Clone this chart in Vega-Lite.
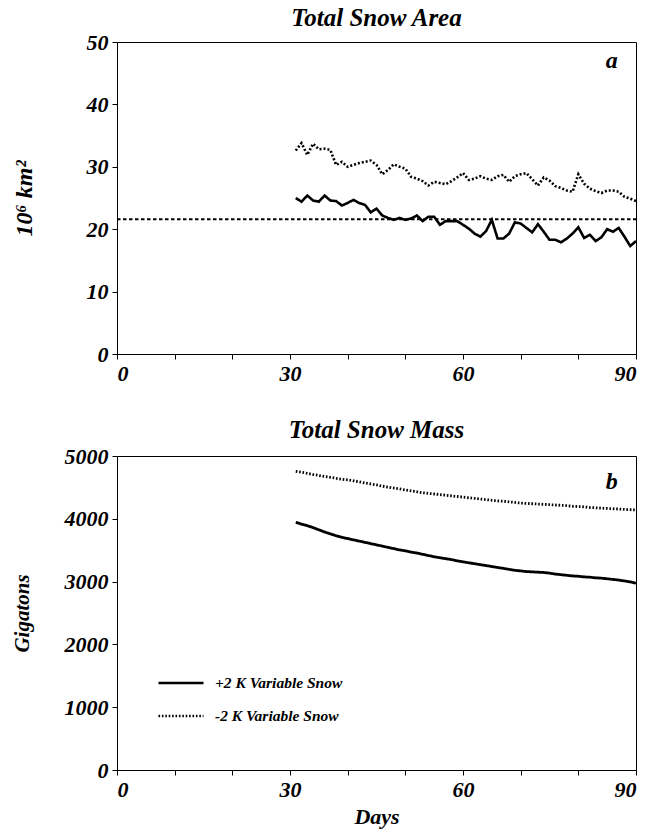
{
  "$schema": "https://vega.github.io/schema/vega-lite/v6.json",
  "padding": {"left": 10, "top": 5, "right": 5, "bottom": 5},
  "background": "white",
  "config": {
    "font": "Liberation Serif",
    "view": {"stroke": "black", "strokeWidth": 1},
    "axis": {
      "labelFont": "Liberation Serif", "labelFontWeight": "bold", "labelFontStyle": "italic",
      "labelFontSize": 22, "labelColor": "black",
      "titleFont": "Liberation Serif", "titleFontWeight": "bold", "titleFontStyle": "italic",
      "titleFontSize": 21, "titleColor": "black",
      "domainColor": "black", "tickColor": "black", "tickSize": 5, "grid": false, "labelPadding": 4
    },
    "title": {"font": "Liberation Serif", "fontWeight": "bold", "fontStyle": "italic", "fontSize": 25, "color": "black"},
    "legend": {"labelFont": "Liberation Serif", "labelFontWeight": "bold", "labelFontStyle": "italic", "labelFontSize": 15.5, "labelColor": "black"}
  },
  "datasets": {
    "area": [
      {"day":31,"plus":25.0,"minus":32.6},{"day":32,"plus":24.4,"minus":33.8},{"day":33,"plus":25.4,"minus":31.9},
      {"day":34,"plus":24.6,"minus":33.7},{"day":35,"plus":24.4,"minus":32.8},{"day":36,"plus":25.4,"minus":32.9},
      {"day":37,"plus":24.6,"minus":32.7},{"day":38,"plus":24.5,"minus":30.3},{"day":39,"plus":23.8,"minus":30.8},
      {"day":40,"plus":24.2,"minus":30.0},{"day":41,"plus":24.7,"minus":30.3},{"day":42,"plus":24.2,"minus":30.6},
      {"day":43,"plus":23.9,"minus":30.8},{"day":44,"plus":22.7,"minus":31.0},{"day":45,"plus":23.3,"minus":30.3},
      {"day":46,"plus":22.2,"minus":28.8},{"day":47,"plus":21.8,"minus":29.5},{"day":48,"plus":21.5,"minus":30.4},
      {"day":49,"plus":21.8,"minus":30.0},{"day":50,"plus":21.5,"minus":29.7},{"day":51,"plus":21.7,"minus":28.4},
      {"day":52,"plus":22.2,"minus":28.1},{"day":53,"plus":21.3,"minus":27.7},{"day":54,"plus":22.0,"minus":27.0},
      {"day":55,"plus":22.0,"minus":27.6},{"day":56,"plus":20.7,"minus":27.4},{"day":57,"plus":21.3,"minus":27.2},
      {"day":58,"plus":21.3,"minus":27.7},{"day":59,"plus":21.3,"minus":28.3},{"day":60,"plus":20.7,"minus":29.0},
      {"day":61,"plus":20.1,"minus":27.9},{"day":62,"plus":19.3,"minus":28.1},{"day":63,"plus":18.8,"minus":28.5},
      {"day":64,"plus":19.7,"minus":28.1},{"day":65,"plus":21.5,"minus":27.9},{"day":66,"plus":18.5,"minus":28.5},
      {"day":67,"plus":18.5,"minus":28.7},{"day":68,"plus":19.3,"minus":27.6},{"day":69,"plus":21.1,"minus":28.5},
      {"day":70,"plus":20.9,"minus":28.8},{"day":71,"plus":20.2,"minus":29.0},{"day":72,"plus":19.5,"minus":28.0},
      {"day":73,"plus":20.8,"minus":27.0},{"day":74,"plus":19.6,"minus":28.3},{"day":75,"plus":18.3,"minus":27.8},
      {"day":76,"plus":18.3,"minus":26.9},{"day":77,"plus":17.9,"minus":26.6},{"day":78,"plus":18.5,"minus":26.2},
      {"day":79,"plus":19.3,"minus":26.0},{"day":80,"plus":20.3,"minus":28.8},{"day":81,"plus":18.6,"minus":27.3},
      {"day":82,"plus":19.1,"minus":26.5},{"day":83,"plus":18.1,"minus":26.1},{"day":84,"plus":18.7,"minus":25.8},
      {"day":85,"plus":20.0,"minus":26.2},{"day":86,"plus":19.6,"minus":26.2},{"day":87,"plus":20.2,"minus":26.0},
      {"day":88,"plus":18.8,"minus":25.2},{"day":89,"plus":17.3,"minus":24.9},{"day":90,"plus":18.1,"minus":24.5}
    ],
    "ref": [{"day":0,"value":21.6},{"day":90,"value":21.6}],
    "mass": [
      {"day":31,"plus":3945,"minus":4755},{"day":32,"plus":3915,"minus":4740},{"day":33,"plus":3890,"minus":4725},
      {"day":34,"plus":3860,"minus":4705},{"day":35,"plus":3825,"minus":4690},{"day":36,"plus":3790,"minus":4675},
      {"day":37,"plus":3760,"minus":4660},{"day":38,"plus":3730,"minus":4645},{"day":39,"plus":3705,"minus":4630},
      {"day":40,"plus":3685,"minus":4620},{"day":41,"plus":3665,"minus":4605},{"day":42,"plus":3645,"minus":4590},
      {"day":43,"plus":3625,"minus":4570},{"day":44,"plus":3605,"minus":4555},{"day":45,"plus":3585,"minus":4540},
      {"day":46,"plus":3565,"minus":4520},{"day":47,"plus":3545,"minus":4505},{"day":48,"plus":3525,"minus":4490},
      {"day":49,"plus":3505,"minus":4475},{"day":50,"plus":3490,"minus":4460},{"day":51,"plus":3470,"minus":4445},
      {"day":52,"plus":3455,"minus":4430},{"day":53,"plus":3435,"minus":4415},{"day":54,"plus":3415,"minus":4405},
      {"day":55,"plus":3395,"minus":4395},{"day":56,"plus":3380,"minus":4385},{"day":57,"plus":3365,"minus":4375},
      {"day":58,"plus":3350,"minus":4365},{"day":59,"plus":3330,"minus":4355},{"day":60,"plus":3315,"minus":4345},
      {"day":61,"plus":3300,"minus":4335},{"day":62,"plus":3285,"minus":4325},{"day":63,"plus":3270,"minus":4315},
      {"day":64,"plus":3255,"minus":4305},{"day":65,"plus":3240,"minus":4295},{"day":66,"plus":3225,"minus":4285},
      {"day":67,"plus":3210,"minus":4280},{"day":68,"plus":3195,"minus":4270},{"day":69,"plus":3180,"minus":4260},
      {"day":70,"plus":3170,"minus":4250},{"day":71,"plus":3160,"minus":4245},{"day":72,"plus":3155,"minus":4240},
      {"day":73,"plus":3150,"minus":4235},{"day":74,"plus":3145,"minus":4230},{"day":75,"plus":3135,"minus":4225},
      {"day":76,"plus":3120,"minus":4220},{"day":77,"plus":3110,"minus":4215},{"day":78,"plus":3100,"minus":4210},
      {"day":79,"plus":3090,"minus":4200},{"day":80,"plus":3085,"minus":4195},{"day":81,"plus":3075,"minus":4190},
      {"day":82,"plus":3070,"minus":4180},{"day":83,"plus":3060,"minus":4175},{"day":84,"plus":3055,"minus":4170},
      {"day":85,"plus":3045,"minus":4165},{"day":86,"plus":3035,"minus":4160},{"day":87,"plus":3025,"minus":4155},
      {"day":88,"plus":3010,"minus":4150},{"day":89,"plus":2995,"minus":4145},{"day":90,"plus":2975,"minus":4140}
    ]
  },
  "bounds": "flush",
  "spacing": 102,
  "vconcat": [
    {
      "width": 519, "height": 312,
      "title": {"text": "Total Snow Area", "offset": 0},
      "layer": [
        {
          "data": {"name": "area"},
          "transform": [{"fold": ["plus", "minus"], "as": ["run", "value"]}],
          "mark": {"type": "line", "color": "black", "strokeWidth": 2.6},
          "encoding": {
            "x": {"field": "day", "type": "quantitative", "scale": {"domain": [0, 90]},
                  "axis": {"values": [0,10,20,30,40,50,60,70,80,90], "labelExpr": "datum.value % 30 === 0 ? datum.label : ''", "title": null}},
            "y": {"field": "value", "type": "quantitative", "scale": {"domain": [0, 50]},
                  "axis": {"values": [0,5,10,15,20,25,30,35,40,45,50], "labelExpr": "datum.value % 10 === 0 ? datum.label : ''",
                           "title": "10⁶ km²", "titleFontSize": 24, "minExtent": 62, "maxExtent": 62, "titlePadding": 19}},
            "strokeDash": {"field": "run", "type": "nominal", "scale": {"domain": ["plus", "minus"], "range": [[1, 0], [2, 2]]}, "legend": null}
          }
        },
        {
          "data": {"name": "ref"},
          "mark": {"type": "line", "color": "black", "strokeWidth": 2, "strokeDash": [3.5, 2.5]},
          "encoding": {
            "x": {"field": "day", "type": "quantitative"},
            "y": {"field": "value", "type": "quantitative"}
          }
        },
        {
          "data": {"values": [{"label": "a"}]},
          "mark": {"type": "text", "fontSize": 24, "fontWeight": "bold", "fontStyle": "italic", "font": "Liberation Serif", "align": "center", "baseline": "middle", "color": "black"},
          "encoding": {"text": {"field": "label"}, "x": {"datum": 85.8}, "y": {"datum": 47}}
        }
      ]
    },
    {
      "width": 519, "height": 314,
      "title": {"text": "Total Snow Mass", "offset": 2},
      "layer": [
        {
          "data": {"name": "mass"},
          "transform": [{"fold": ["plus", "minus"], "as": ["run", "value"]}],
          "mark": {"type": "line", "color": "black", "strokeWidth": 2.8},
          "encoding": {
            "x": {"field": "day", "type": "quantitative", "scale": {"domain": [0, 90]},
                  "axis": {"values": [0,10,20,30,40,50,60,70,80,90], "labelExpr": "datum.value % 30 === 0 ? datum.label : ''", "title": "Days", "titleFontSize": 22, "titlePadding": 6}},
            "y": {"field": "value", "type": "quantitative", "scale": {"domain": [0, 5000]},
                  "axis": {"values": [0,500,1000,1500,2000,2500,3000,3500,4000,4500,5000], "format": "d", "labelExpr": "datum.value % 1000 === 0 ? datum.label : ''",
                           "title": "Gigatons", "minExtent": 62, "maxExtent": 62, "titlePadding": 23}},
            "strokeDash": {"field": "run", "type": "nominal", "scale": {"domain": ["plus", "minus"], "range": [[1, 0], [1.6, 1.8]]},
                           "legend": {"orient": "none", "legendX": 40, "legendY": 203, "title": null, "symbolType": "stroke", "symbolSize": 2025,
                                      "symbolStrokeWidth": 2.5, "symbolStrokeColor": "black", "rowPadding": -19, "labelOffset": 10,
                                      "labelExpr": "datum.label == 'plus' ? '+2 K Variable Snow' : '-2 K Variable Snow'"}}
          }
        },
        {
          "data": {"values": [{"label": "b"}]},
          "mark": {"type": "text", "fontSize": 24, "fontWeight": "bold", "fontStyle": "italic", "font": "Liberation Serif", "align": "center", "baseline": "middle", "color": "black"},
          "encoding": {"text": {"field": "label"}, "x": {"datum": 85.8}, "y": {"datum": 4586}}
        }
      ]
    }
  ],
  "resolve": {"scale": {"y": "independent", "strokeDash": "independent"}, "legend": {"strokeDash": "independent"}}
}
